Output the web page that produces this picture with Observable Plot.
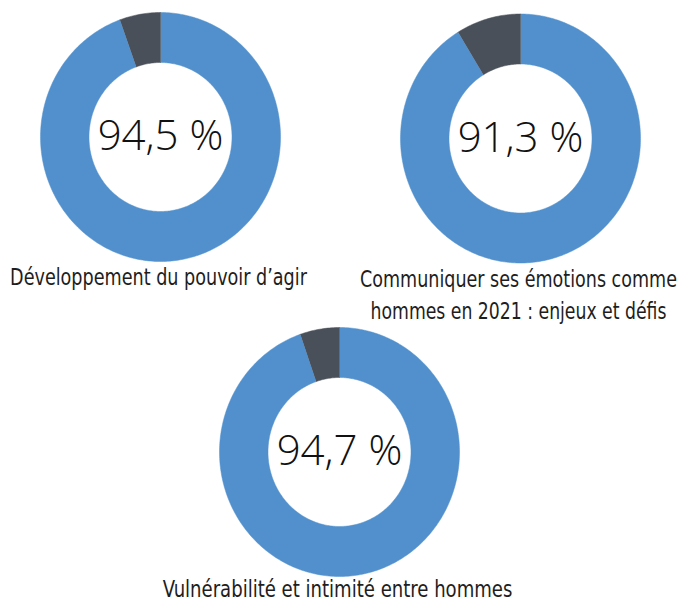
<!DOCTYPE html>
<html>
<head>
<meta charset="utf-8">
<script src="https://cdn.jsdelivr.net/npm/d3@7"></script>
<script src="https://cdn.jsdelivr.net/npm/@observablehq/plot@0.6"></script>
<style>
  html, body { margin: 0; padding: 0; background: #fff; }
  #chart svg { display: block; }
</style>
</head>
<body>
<div id="chart"></div>
<script>
// ---- data ----
const topics = [
  ["Développement du pouvoir d’agir"],
  ["Communiquer ses émotions comme", "hommes en 2021 : enjeux et défis"],
  ["Vulnérabilité et intimité entre hommes"]
];
const shares = [94.5, 91.3, 94.7];          // percent (blue part)
const shareLabels = ["94,5 %", "91,3 %", "94,7 %"];

// ---- layout (pixels) ----
const W = 684, H = 602;
const cx = [160, 520, 339];
const cy = [136.5, 138, 451.5];
const labelY = [277.6, 279.6, 589.2];
const lineStep = 32;
const labelWidths = [[297], [317, 296], [350]];
const rxOuter = 120, ryOuter = 124.5;
const rxInner = 71.5, ryInner = 74.5;
const BLUE = "#5190cc", DARK = "#4a5059";

// Build slice polygons (in pixel units) from each share
function slice(i, a0, a1, part) {
  const n = Math.max(2, Math.ceil(Math.abs(a1 - a0) / (Math.PI / 180)));
  const pts = [];
  for (let k = 0; k <= n; k++) {
    const a = a0 + (a1 - a0) * k / n;
    pts.push({x: cx[i] + rxOuter * Math.sin(a), y: cy[i] - ryOuter * Math.cos(a), id: i + part, part});
  }
  for (let k = n; k >= 0; k--) {
    const a = a0 + (a1 - a0) * k / n;
    pts.push({x: cx[i] + rxInner * Math.sin(a), y: cy[i] - ryInner * Math.cos(a), id: i + part, part});
  }
  return pts;
}
const polys = [];
shares.forEach((v, i) => {
  const a = 2 * Math.PI * v / 100;
  polys.push(...slice(i, 0, a, "oui"));
  polys.push(...slice(i, a, 2 * Math.PI, "non"));
});

const centerText = shares.map((v, i) => ({x: cx[i], y: cy[i], t: shareLabels[i]}));
const labelText = [];
topics.forEach((lines, i) => lines.forEach((t, j) =>
  labelText.push({x: cx[i] - 2, y: labelY[i] + j * lineStep, t, w: labelWidths[i][j]})));

const plot = Plot.plot({
  width: W, height: H,
  margin: 0,
  x: {domain: [0, W], range: [0, W], axis: null},
  y: {domain: [0, H], range: [0, H], axis: null},
  color: {domain: ["oui", "non"], range: [BLUE, DARK]},
  marks: [
    Plot.line(polys, {x: "x", y: "y", z: "id", fill: "part", stroke: "part", strokeWidth: 0.5, curve: "linear"}),
    Plot.text(centerText, {x: "x", y: "y", text: "t", fontSize: 42, fontWeight: 300,
      fontFamily: "'Open Sans', 'Noto Sans', sans-serif", fill: "#111", textAnchor: "middle"}),
    Plot.text(labelText, {x: "x", y: "y", text: "t", fontSize: 23,
      fontFamily: "'DejaVu Sans Condensed', 'Liberation Sans Narrow', sans-serif", fill: "#1e1e1e", textAnchor: "middle"})
  ]
});
document.getElementById("chart").appendChild(plot);

// condense label text horizontally to the reference's narrow face
const groups = d3.select(plot).selectAll("g[aria-label='text']").nodes();
const labelGroup = groups[groups.length - 1];
d3.select(labelGroup).selectAll("text").each(function(_, k) {
  const natural = this.getComputedTextLength();
  const sx = labelText[k].w / natural;
  let t = this.getAttribute("transform");
  if (!t) {
    const x = +this.getAttribute("x") || 0, y = +this.getAttribute("y") || 0;
    this.removeAttribute("x"); this.removeAttribute("y");
    t = `translate(${x},${y})`;
  }
  this.setAttribute("transform", `${t} scale(${sx},1)`);
});
</script>
</body>
</html>
